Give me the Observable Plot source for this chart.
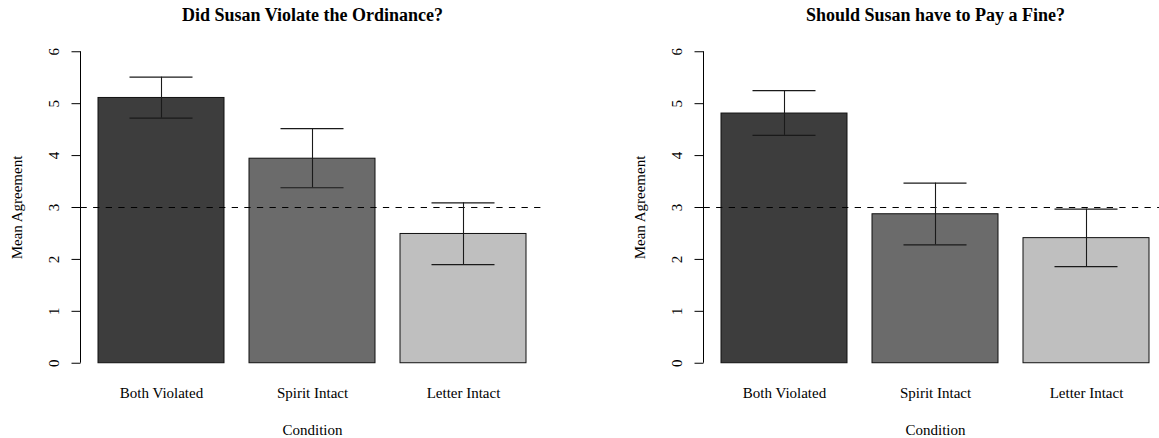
<!DOCTYPE html>
<html>
<head>
<meta charset="utf-8">
<script src="https://cdn.jsdelivr.net/npm/d3@7"></script>
<script src="https://cdn.jsdelivr.net/npm/@observablehq/plot@0.6"></script>
<style>
  html, body { margin: 0; padding: 0; background: #fff; }
  #wrap { position: relative; width: 1159px; height: 438px; overflow: hidden; background: #fff; }
  .panel { position: absolute; top: 0; }
</style>
</head>
<body>
<div id="wrap"></div>
<script>
// ---- data ----
const conditions = ["Both Violated", "Spirit Intact", "Letter Intact"];
const barColors = ["#3d3d3d", "#6b6b6b", "#bfbfbf"];
const yTicks = [0, 1, 2, 3, 4, 5, 6];
const neutralLine = [3];

const violateTitle = "Did Susan Violate the Ordinance?";
const violateMean = [5.11, 3.94, 2.49];
const violateLo   = [4.72, 3.38, 1.90];
const violateHi   = [5.51, 4.52, 3.09];

const fineTitle = "Should Susan have to Pay a Fine?";
const fineMean = [4.81, 2.87, 2.41];
const fineLo   = [4.39, 2.28, 1.86];
const fineHi   = [5.25, 3.47, 2.97];

const xLabel = "Condition";
const yLabel = "Mean Agreement";

function table(means, los, his) {
  return conditions.map((c, i) => ({condition: c, mean: means[i], lo: los[i], hi: his[i]}));
}

const FONT = "'Liberation Serif', 'Times New Roman', Times, 'DejaVu Serif', serif";

function panel(title, data) {
  // axis line drawn from 0 to 6 only (as R does), via the plot's y scale
  const axisLine = (index, scales, values, dimensions) => {
    const x = dimensions.marginLeft;
    const g = d3.create("svg:g");
    g.append("line")
      .attr("x1", x).attr("x2", x)
      .attr("y1", scales.y(d3.min(yTicks))).attr("y2", scales.y(d3.max(yTicks)))
      .attr("stroke", "black").attr("stroke-width", 1);
    return g.node();
  };
  return Plot.plot({
    width: 580,
    height: 438,
    marginLeft: 80.5,
    marginRight: 36.5,
    marginTop: 38.8,
    marginBottom: 62.8,
    style: {fontFamily: FONT, background: "white", color: "black", overflow: "visible"},
    x: {type: "band", domain: conditions, paddingInner: 1/6, paddingOuter: 0.1133, axis: null},
    y: {domain: [-0.24, 6.24], axis: null},
    color: {domain: conditions, range: barColors},
    marks: [
      Plot.barY(data, {x: "condition", y: "mean", fill: "condition", stroke: "#111", strokeWidth: 1}),
      Plot.ruleY(neutralLine, {stroke: "black", strokeWidth: 1, strokeDasharray: "6.3,6.3"}),
      Plot.ruleX(data, {x: "condition", y1: "lo", y2: "hi", stroke: "#1a1a1a", strokeWidth: 1.1}),
      Plot.tickY(data, {x: "condition", y: "lo", stroke: "#1a1a1a", strokeWidth: 1.2, insetLeft: 31.5, insetRight: 31.5}),
      Plot.tickY(data, {x: "condition", y: "hi", stroke: "#1a1a1a", strokeWidth: 1.2, insetLeft: 31.5, insetRight: 31.5}),
      Plot.axisY(yTicks, {anchor: "left", tickSize: 9, tickPadding: 13, tickRotate: -90, fontSize: 15, tickFormat: d => String(d), label: null}),
      axisLine,
      Plot.axisX({anchor: "bottom", tickSize: 0, tickPadding: 11.2, fontSize: 15, label: null}),
      Plot.text([yLabel], {text: d => d, frameAnchor: "left", rotate: -90, dx: -59.5, lineAnchor: "bottom", textAnchor: "middle", fontSize: 15, fill: "black"}),
      Plot.text([xLabel], {text: d => d, frameAnchor: "bottom", dy: 58.8, lineAnchor: "bottom", textAnchor: "middle", fontSize: 15, fill: "black"}),
      Plot.text([title], {text: d => d, frameAnchor: "top", dy: -18.8, lineAnchor: "bottom", textAnchor: "middle", fontSize: 18, fontWeight: "bold", fill: "black"})
    ]
  });
}

const wrap = document.getElementById("wrap");
const p1 = panel(violateTitle, table(violateMean, violateLo, violateHi));
p1.classList.add("panel");
p1.style.left = "0px";
wrap.appendChild(p1);

const p2 = panel(fineTitle, table(fineMean, fineLo, fineHi));
p2.classList.add("panel");
p2.style.left = "622.8px";
wrap.appendChild(p2);
</script>
</body>
</html>
